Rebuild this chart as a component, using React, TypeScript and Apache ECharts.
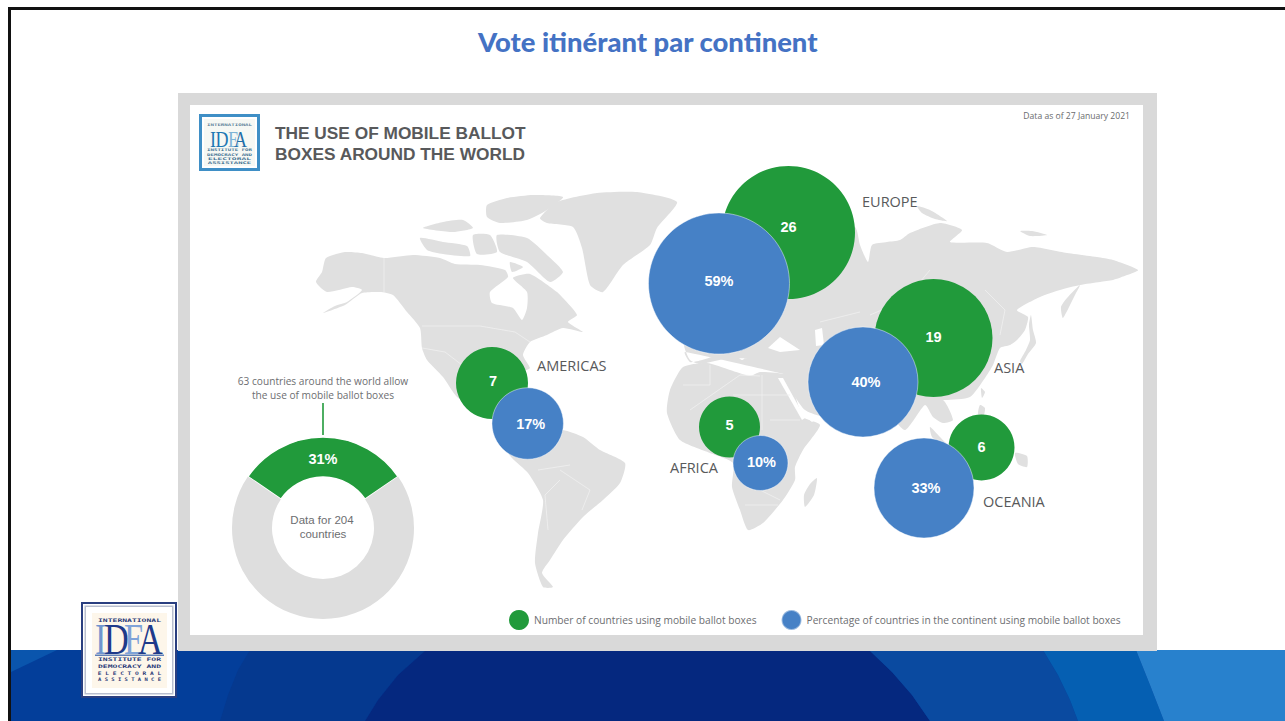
import React, { useEffect, useRef } from "react";
import * as echarts from "echarts";

// ---------- data ----------
const continents = ["Europe", "Asia", "Americas", "Africa", "Oceania"];
const countriesUsing = [26, 19, 7, 5, 6];
const percentUsing = [59, 40, 17, 10, 33];
const donutNames = ["Allow mobile ballot boxes", "Other countries"];
const donutValues = [63, 141];
const slideTitle = "Vote itinérant par continent";
const legendCount = "Number of countries using mobile ballot boxes";
const legendShare = "Percentage of countries in the continent using mobile ballot boxes";

// ---------- layout on the page (x, y, diameter, label dx, dy) ----------
const countLayout = [
  [788.5, 232.5, 133, 0, -5],
  [933.5, 338, 118, 0, 0],
  [492, 383, 72, 1, -1],
  [729.5, 427, 61, 0, -1],
  [981.5, 447.5, 66, 0, 0],
];
const shareLayout = [
  [719, 283.5, 141, 0, -2],
  [863, 382, 110, 3, 1],
  [527.7, 423.5, 71.5, 3, 1],
  [760.5, 463, 55, 1, 0],
  [924, 488, 100, 2, 1],
];

const GREEN = "#219a3b";
const BLUE = "#4681c6";
const LAND = "#e0e0e0";
const INK = "#58595b";

type P = number[][];

// ---------- decorative land silhouette ----------
const land: P[] = [
  // North America
  [[323,313],[335,306],[347,302],[362,290],[352,287],[327,292],[316,282],[322,272],[326,258],[345,252],[362,253],[384,258],[413,255],[440,258],[455,264],[480,265],[505,270],[508,277],[490,292],[492,303],[513,308],[522,320],[527,308],[527,292],[513,278],[530,274],[557,292],[563,298],[577,315],[568,322],[583,332],[563,328],[547,335],[530,342],[523,355],[530,368],[526,370],[517,360],[500,360],[492,372],[497,392],[515,405],[525,420],[530,440],[505,425],[480,412],[457,397],[443,377],[427,360],[422,348],[420,328],[407,312],[393,295],[380,292],[362,293],[345,305]],
  // Greenland
  [[540,218],[557,202],[597,193],[637,192],[677,202],[657,228],[650,245],[623,265],[603,292],[590,285],[582,248],[573,227],[547,223]],
  // Arctic archipelago
  [[487,205],[507,198],[533,195],[563,197],[547,210],[527,220],[500,223],[487,217]],
  [[497,235],[527,238],[547,255],[563,272],[550,282],[527,262],[500,252]],
  [[420,238],[443,242],[467,246],[470,256],[443,254],[427,250]],
  [[423,228],[443,222],[463,220],[473,228],[453,232]],
  [[473,235],[490,235],[497,252],[477,254]],
  [[510,262],[523,267],[512,272]],
  // South America
  [[500,440],[530,430],[563,430],[583,437],[600,450],[625,463],[620,483],[603,500],[583,517],[563,540],[550,560],[542,573],[553,587],[543,587],[535,563],[538,533],[543,500],[528,473],[512,458]],
  // Africa
  [[667,413],[670,390],[683,367],[707,363],[730,370],[750,376],[760,372],[787,375],[794,392],[803,417],[820,425],[803,450],[795,467],[795,480],[783,500],[763,523],[748,530],[740,510],[732,487],[733,463],[710,453],[680,440]],
  // Madagascar
  [[817,478],[814,495],[805,507],[804,495],[810,484]],
  // Eurasia
  [[685,352],[690,362],[702,360],[730,352],[742,360],[748,356],[763,358],[770,352],[790,358],[813,357],[812,372],[808,380],[830,395],[900,400],[920,400],[943,400],[953,420],[943,423],[933,417],[925,405],[905,430],[885,410],[860,410],[840,420],[805,410],[783,375],[782,362],[770,360],[730,358],[700,364],[690,360],[684,345],[690,300],[740,200],[800,200],[855,227],[860,245],[868,262],[872,245],[887,242],[900,240],[910,233],[940,223],[962,230],[950,242],[987,243],[1007,252],[1033,247],[1067,253],[1097,257],[1113,260],[1138,270],[1127,275],[1113,280],[1100,282],[1080,285],[1060,290],[1040,297],[1017,310],[1028,317],[1025,330],[1017,340],[1010,345],[1000,348],[993,365],[985,378],[970,397],[945,400],[900,400]],
  // Kamchatka side
  [[1080,285],[1075,295],[1063,318],[1061,307],[1067,298]],
  // Japan
  [[1031,315],[1033,330],[1036,343],[1028,354],[1022,364],[1020,361],[1026,350],[1030,340],[1029,325]],
  // Novaya Zemlya and northern islands
  [[917,206],[930,210],[947,221],[935,219],[922,213]],
  [[1020,231],[1032,231],[1047,235],[1030,236]],
  // Taiwan, Philippines, Indonesia
  [[981,388],[985,392],[982,398]],
  [[980,405],[985,408],[983,418],[978,414]],
  [[930,427],[940,437],[952,450],[945,448],[932,437]],
  // New Guinea / Australia edge
  [[1015,453],[1027,456],[1027,467],[1018,464]],
];
const seas: P[] = [
  [[768,348],[780,337],[800,350],[780,352]],
  [[815,330],[822,328],[824,345],[816,346]],
  [[778,378],[783,378],[805,418],[802,420]],
  [[807,418],[820,417],[812,422]],
];
const borders: P[] = [
  [[384,258],[384,292]],
  [[422,326],[480,326],[515,332],[530,342]],
  [[422,348],[445,352],[462,365],[478,378]],
  [[683,385],[710,385],[710,365]],
  [[690,410],[740,375],[760,376]],
  [[762,375],[762,430]],
  [[733,395],[790,395]],
  [[770,420],[800,420]],
  [[760,490],[780,500]],
  [[745,505],[778,505]],
  [[560,480],[545,495],[548,530]],
  [[560,470],[590,490],[582,510]],
  [[538,470],[570,465]],
  [[870,315],[905,300],[930,270]],
  [[820,322],[860,312]],
  [[985,290],[1005,310],[1000,335]],
];

// ---------- slide banner ----------
const bandLeft: P = [[11,650],[57,650],[11,672]];
const bandMid: P = [[250,650],[426,650],[398,675],[378,700],[365,721],[220,721],[228,695],[238,670]];
const bandDark: P = [[426,650],[869,650],[892,672],[912,695],[930,721],[365,721],[378,700],[398,675]];
const bandBlue: P = [[869,650],[1043,650],[1058,675],[1070,700],[1078,721],[930,721],[912,695],[892,672]];
const bandBright: P = [[1043,650],[1136,650],[1150,685],[1164,721],[1078,721],[1070,700],[1058,675]];
const bandPale: P = [[1136,650],[1285,650],[1285,721],[1164,721],[1150,685]];

const poly = (points: P, fill: string, z = 0, smooth = 0) => ({
  type: "polygon", z, silent: true, shape: { points, smooth }, style: { fill },
});
const box = (x: number, y: number, width: number, height: number, fill: string, z = 0) => ({
  type: "rect", z, silent: true, shape: { x, y, width, height }, style: { fill },
});
const line = (points: P, stroke: string, lineWidth: number, z = 0) => ({
  type: "polyline", z, silent: true, shape: { points }, style: { stroke, lineWidth, fill: "none" },
});
const txt = (text: string, x: number, y: number, font: string, fill: string, align = "left", sx = 1) => ({
  type: "text", z: 20, silent: true, x, y, scaleX: sx,
  style: { text, x: 0, y: 0, font, fill, textAlign: align, textVerticalAlign: "middle", verticalAlign: "middle" },
});

const logoLetters = (x: number[], y: number, size: number, cols: string[], sx: number) =>
  ["I", "D", "E", "A"].map((c, i) => txt(c, x[i], y, `${size}px "Liberation Serif"`, cols[i], "left", sx));

const graphics = [
  box(0, 0, 1285, 721, "#ffffff"),
  box(8, 7, 1277, 3, "#111111"),
  box(8, 7, 3, 714, "#111111"),
  box(11, 650, 1274, 71, "#033e9a"),
  poly(bandLeft, "#0a55ad"),
  poly(bandMid, "#05398f"),
  poly(bandDark, "#05287f"),
  poly(bandBlue, "#0a4aa0"),
  poly(bandBright, "#055fb2"),
  poly(bandPale, "#2881cd"),
  // panel
  box(178, 93, 979, 558, "#d9d9d9"),
  box(190, 105, 953, 530, "#ffffff"),
  ...land.map((p) => poly(p, LAND, 1, 0.2)),
  ...seas.map((p) => poly(p, "#ffffff", 1)),
  ...borders.map((p) => line(p, "#f0f0f0", 0.8, 1)),
  // panel logo
  box(199, 114, 61, 57, "#3f8fc6", 3),
  box(202, 117, 55, 51, "#ffffff", 3),
  box(204, 119, 51, 47, "#f6f8f4", 3),
  txt("INTERNATIONAL", 229.5, 125, 'bold 3.6px "DejaVu Sans Mono"', "#5b7f99", "center", 1.6),
  ...logoLetters([210, 215.5, 228, 234], 139, 24, ["#1f78b4", "#1f78b4", "#7fb4d6", "#1f6ea8"], 0.75),
  txt("INSTITUTE FOR", 229.5, 150, 'bold 3.6px "DejaVu Sans Mono"', "#3d6f91", "center", 1.6),
  txt("DEMOCRACY AND", 229.5, 154.5, 'bold 3.6px "DejaVu Sans Mono"', "#3d6f91", "center", 1.6),
  txt("ELECTORAL", 229.5, 159, 'bold 3.6px "DejaVu Sans Mono"', "#3d6f91", "center", 2.2),
  txt("ASSISTANCE", 229.5, 163, 'bold 3.6px "DejaVu Sans Mono"', "#3d6f91", "center", 2),
  // panel headings
  txt("THE USE OF MOBILE BALLOT", 275, 133, 'bold 17.3px "Liberation Sans"', INK),
  txt("BOXES AROUND THE WORLD", 275, 154, 'bold 17.3px "Liberation Sans"', INK),
  txt("Data as of 27 January 2021", 1130, 116, '8.6px "Open Sans"', "#6a6b6d", "right"),
  // continent names
  txt("EUROPE", 862, 201.5, '14.5px "Open Sans"', INK),
  txt("AMERICAS", 537, 365.5, '14.5px "Open Sans"', INK),
  txt("ASIA", 994, 367.5, '14.5px "Open Sans"', INK),
  txt("AFRICA", 670, 467.5, '14.5px "Open Sans"', INK),
  txt("OCEANIA", 983, 501.5, '14.5px "Open Sans"', INK),
  // donut notes
  txt("63 countries around the world allow", 323, 381, '10.15px "Open Sans"', "#6d6e71", "center"),
  txt("the use of mobile ballot boxes", 323, 394.5, '10.15px "Open Sans"', "#6d6e71", "center"),
  line([[323, 403], [323, 435]], GREEN, 1.6, 3),
  txt("Data for 204", 322, 520, '11.5px "Liberation Sans"', "#6d6e71", "center"),
  txt("countries", 323, 534, '11.5px "Liberation Sans"', "#6d6e71", "center"),
  // slide logo
  box(81, 602, 96, 96, "#2a3f80", 25),
  box(83, 604, 92, 92, "#ffffff", 25),
  box(84.5, 605.5, 89, 89, "#b9bfcf", 25),
  box(86, 607, 86, 86, "#ffffff", 25),
  box(92, 613, 75, 75, "#fdf6ea", 25),
  ...[
    txt("INTERNATIONAL", 129.5, 621, 'bold 4.8px "DejaVu Sans Mono"', "#2a3a78", "center", 1.68),
    ...logoLetters([95, 104, 124, 138], 640, 44, ["#6f95cf", "#1e3a8a", "#7fa3d8", "#1e3a8a"], 0.78),
    txt("INSTITUTE FOR", 129.5, 660, 'bold 4.8px "DejaVu Sans Mono"', "#2a3a78", "center", 1.68),
    txt("DEMOCRACY AND", 129.5, 666.5, 'bold 4.8px "DejaVu Sans Mono"', "#2a3a78", "center", 1.68),
    txt("E L E C T O R A L", 129.5, 673, 'bold 4.8px "DejaVu Sans Mono"', "#2a3a78", "center", 1.3),
    txt("A S S I S T A N C E", 129.5, 679.5, 'bold 4.8px "DejaVu Sans Mono"', "#2a3a78", "center", 1.15),
  ].map((t) => ({ ...t, z: 26 })),
  { ...box(95, 654.5, 69, 1.5, "#5f7fb8", 26) },
];

const bubble = (values: number[], layout: number[][], suffix: string) =>
  values.map((v, i) => ({
    name: continents[i],
    value: [layout[i][0], layout[i][1], v],
    symbolSize: layout[i][2],
    label: {
      show: true,
      position: "inside",
      offset: [layout[i][3], layout[i][4] - 1],
      formatter: `${v}${suffix}`,
      color: "#ffffff",
      fontFamily: "Liberation Sans",
      fontWeight: "bold",
      fontSize: 14.5,
    },
  }));

export default function App() {
  const ref = useRef<HTMLDivElement>(null);
  useEffect(() => {
    document.body.style.margin = "0";
    document.body.style.overflow = "hidden";
    const chart = echarts.init(ref.current!, undefined, { renderer: "svg" });
    chart.setOption({
      animation: false,
      backgroundColor: "#ffffff",
      title: {
        text: slideTitle,
        left: 473,
        top: 22.5,
        textStyle: { color: "#4472c4", fontFamily: "Lato", fontWeight: 900, fontSize: 27.4 },
      },
      legend: {
        data: [legendCount, legendShare],
        left: 504,
        top: 604,
        icon: "circle",
        itemWidth: 20,
        itemHeight: 20,
        itemGap: 24,
        selectedMode: false,
        textStyle: { color: "#6d6e71", fontFamily: "Open Sans", fontSize: 10.2 },
      },
      grid: { left: 0, right: 0, top: 0, bottom: 0 },
      xAxis: { type: "value", min: 0, max: 1285, show: false },
      yAxis: { type: "value", min: 0, max: 721, inverse: true, show: false },
      graphic: { elements: graphics },
      series: [
        {
          type: "scatter",
          name: legendCount,
          silent: true,
          z: 5,
          itemStyle: { color: GREEN, opacity: 1 },
          data: bubble(countriesUsing, countLayout, ""),
        },
        {
          type: "scatter",
          name: legendShare,
          silent: true,
          z: 6,
          itemStyle: { color: BLUE, opacity: 1, borderColor: "rgba(255,255,255,0.45)", borderWidth: 1 },
          data: bubble(percentUsing, shareLayout, "%"),
        },
        {
          type: "pie",
          silent: true,
          z: 5,
          center: [323, 528],
          radius: [51, 91],
          startAngle: 145.6,
          percentPrecision: 0,
          label: { show: false },
          labelLine: { show: false },
          data: [
            {
              name: donutNames[0],
              value: donutValues[0],
              itemStyle: { color: GREEN, borderColor: "#ffffff", borderWidth: 1.5 },
              label: {
                show: true,
                position: "inside",
                formatter: "{d}%",
                offset: [0, 5],
                color: "#ffffff",
                fontFamily: "Liberation Sans",
                fontWeight: "bold",
                fontSize: 14.5,
              },
            },
            { name: donutNames[1], value: donutValues[1], itemStyle: { color: "#dedede" } },
          ],
        },
      ],
    });
    return () => chart.dispose();
  }, []);
  return <div ref={ref} style={{ position: "absolute", left: 0, top: 0, width: 1285, height: 721 }} />;
}
